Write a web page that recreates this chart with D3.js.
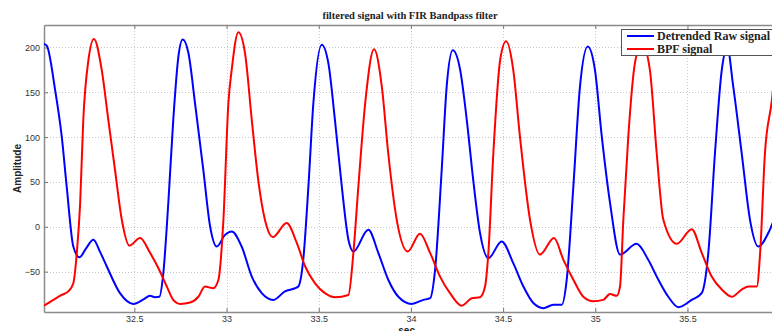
<!DOCTYPE html>
<html><head><meta charset="utf-8">
<script src="https://cdn.jsdelivr.net/npm/d3@7"></script>
<style>body{margin:0;background:#fff}svg{display:block}</style>
</head><body>
<script>
const titleText = "filtered signal with FIR Bandpass filter";
const xLabel = "sec.";
const yLabel = "Amplitude";
const seriesNames = ["Detrended Raw signal", "BPF signal"];
const xTicks = [32.5, 33, 33.5, 34, 34.5, 35, 35.5];
const yTicks = [-50, 0, 50, 100, 150, 200];

const rawT = [32.010,32.025,32.070,32.106,32.133,32.169,32.202,32.238,32.278,32.314,32.350,32.422,32.495,32.549,32.585,32.612,32.636,32.657,32.684,32.711,32.739,32.762,32.793,32.829,32.874,32.911,32.947,32.992,33.028,33.082,33.137,33.191,33.254,33.317,33.371,33.389,33.416,33.444,33.471,33.516,33.552,33.588,33.625,33.661,33.688,33.769,33.823,33.877,33.932,34.004,34.067,34.104,34.131,34.167,34.194,34.227,34.267,34.303,34.338,34.375,34.420,34.492,34.555,34.610,34.664,34.718,34.772,34.818,34.845,34.881,34.917,34.959,34.998,35.035,35.080,35.134,35.224,35.287,35.342,35.396,35.450,35.523,35.577,35.613,35.649,35.686,35.716,35.748,35.794,35.839,35.884,35.938,35.980];
const rawV = [204,202,153,101,45,-22,-34,-24,-14.5,-28,-44,-74,-86,-81,-77,-78.5,-78,-52,26,119,190,208.7,194,138,63.6,0.3,-22,-9,-5.2,-22,-55.5,-74,-81.5,-72,-68.5,-66.6,-36.8,45,138,203,182.7,119,45,-14.5,-27.5,-3.3,-29,-59,-78,-86,-81.5,-79.6,-48,63.6,156.6,196.8,175,119,52,-7,-35,-16.4,-40.5,-66.6,-85,-90.7,-87,-87,-59,45,156.6,201,175,101,26.4,-31,-19,-36.8,-59,-78,-89.6,-81.5,-74,-29,82,175,200,156.6,82,7.8,-22,-7,14];

const bpfT = [32.010,32.061,32.106,32.142,32.169,32.188,32.206,32.223,32.251,32.281,32.323,32.359,32.395,32.432,32.473,32.531,32.585,32.630,32.676,32.711,32.748,32.802,32.847,32.883,32.928,32.956,32.983,33.010,33.028,33.064,33.100,33.137,33.172,33.218,33.251,33.326,33.381,33.426,33.480,33.534,33.588,33.661,33.688,33.715,33.752,33.800,33.842,33.877,33.923,33.983,34.049,34.104,34.158,34.212,34.276,34.330,34.375,34.402,34.420,34.447,34.484,34.516,34.555,34.591,34.646,34.700,34.776,34.827,34.881,34.935,34.989,35.043,35.080,35.116,35.134,35.152,35.179,35.215,35.253,35.296,35.333,35.369,35.442,35.523,35.577,35.631,35.686,35.740,35.794,35.830,35.876,35.894,35.920,35.957,35.980];
const bpfV = [-88,-81.5,-76,-72,-63,-29,26,119,186,209.5,175,119,63.6,7.8,-21,-12.6,-29,-46,-66.6,-81.5,-86,-84.5,-78,-66.6,-68.5,-59,7.8,138,175,216.8,194,119,52,0.3,-11.5,4.1,-18,-44,-63,-74,-78.5,-76,-29,45,138,198,156.6,82,7.8,-27.5,-7.8,-29,-55.5,-74,-88,-79.6,-78.5,-66.6,-29,82,186,206.8,175,101,7.8,-31,-12.6,-36.8,-59,-78,-83,-81.5,-75,-77,-66.6,7.8,101,182.7,205,175,82,7.8,-19,-2.6,-29,-55.5,-70,-78,-70,-66.6,-66.6,-29,82,140,185];

const W = 772, H = 331;
const m = {left: 44, top: 25, right: 776, bottom: 312};
const svg = d3.select("body").append("svg").attr("width", W).attr("height", H)
  .style("font-family", "Arial, 'Liberation Sans', sans-serif");

const x = d3.scaleLinear().domain([32.01, 35.98]).range([m.left, m.right]);
const y = d3.scaleLinear().domain([-95, 225]).range([m.bottom, m.top]);

svg.append("defs").append("clipPath").attr("id", "clip")
  .append("rect").attr("x", m.left).attr("y", m.top).attr("width", m.right - m.left).attr("height", m.bottom - m.top);

// grid
const grid = svg.append("g").attr("stroke", "#c8c8c8").attr("stroke-width", 1).attr("stroke-dasharray", "1,2");
xTicks.forEach(t => grid.append("line").attr("x1", Math.round(x(t)) + 0.5).attr("x2", Math.round(x(t)) + 0.5).attr("y1", m.top).attr("y2", m.bottom));
yTicks.forEach(t => grid.append("line").attr("y1", Math.round(y(t)) + 0.5).attr("y2", Math.round(y(t)) + 0.5).attr("x1", m.left).attr("x2", m.right));

// axes
const axCol = "#8a8a8a";
const xb = svg.append("g").attr("transform", `translate(0,${m.bottom})`)
  .call(d3.axisBottom(x).tickValues(xTicks).tickSizeInner(-4).tickSizeOuter(0).tickPadding(4).tickFormat(d3.format("")));
const xt = svg.append("g").attr("transform", `translate(0,${m.top})`)
  .call(d3.axisTop(x).tickValues(xTicks).tickSizeInner(-4).tickSizeOuter(0).tickFormat(""));
const yl = svg.append("g").attr("transform", `translate(${m.left},0)`)
  .call(d3.axisLeft(y).tickValues(yTicks).tickSizeInner(-4).tickSizeOuter(0).tickPadding(4).tickFormat(d3.format("")));
[xb, xt, yl].forEach(g => {
  g.select(".domain").attr("stroke", axCol).attr("stroke-width", 1.5);
  g.selectAll(".tick line").attr("stroke", "#777");
  g.selectAll("text").attr("fill", "#333").style("font-size", "9px");
});

// lines
const line = d3.line().curve(d3.curveMonotoneX);
const plot = svg.append("g").attr("clip-path", "url(#clip)");
plot.append("path").attr("d", line(rawT.map((t, i) => [x(t), y(rawV[i])])))
  .attr("fill", "none").attr("stroke", "#0000ff").attr("stroke-width", 2);
plot.append("path").attr("d", line(bpfT.map((t, i) => [x(t), y(bpfV[i])])))
  .attr("fill", "none").attr("stroke", "#ff0000").attr("stroke-width", 2);

// title & labels
svg.append("text").attr("x", (m.left + m.right) / 2).attr("y", 19).attr("text-anchor", "middle")
  .style("font-family", "'Liberation Serif', 'Times New Roman', serif").style("font-size", "10.5px").style("font-weight", "bold")
  .attr("fill", "#222").text(titleText);
svg.append("text").attr("transform", `translate(21,${(m.top + m.bottom) / 2}) rotate(-90)`).attr("text-anchor", "middle")
  .style("font-size", "10px").style("font-weight", "bold").attr("fill", "#222").text(yLabel);
svg.append("text").attr("x", 408).attr("y", 334).attr("text-anchor", "middle")
  .style("font-size", "10px").style("font-weight", "bold").attr("fill", "#222").text(xLabel);

// legend
const lg = svg.append("g");
lg.append("rect").attr("x", 621.5).attr("y", 29.5).attr("width", 152).attr("height", 26)
  .attr("fill", "#fff").attr("stroke", "#555").attr("stroke-width", 1);
const colors = ["#0000ff", "#ff0000"];
seriesNames.forEach((n, i) => {
  const yy = 36 + i * 13;
  lg.append("line").attr("x1", 627).attr("x2", 654).attr("y1", yy).attr("y2", yy).attr("stroke", colors[i]).attr("stroke-width", 2);
  lg.append("text").attr("x", 657).attr("y", yy + 4)
    .style("font-family", "'Liberation Serif', 'Times New Roman', serif").style("font-size", "12px").style("font-weight", "bold")
    .attr("fill", "#222").text(n);
});
</script>
</body></html>
